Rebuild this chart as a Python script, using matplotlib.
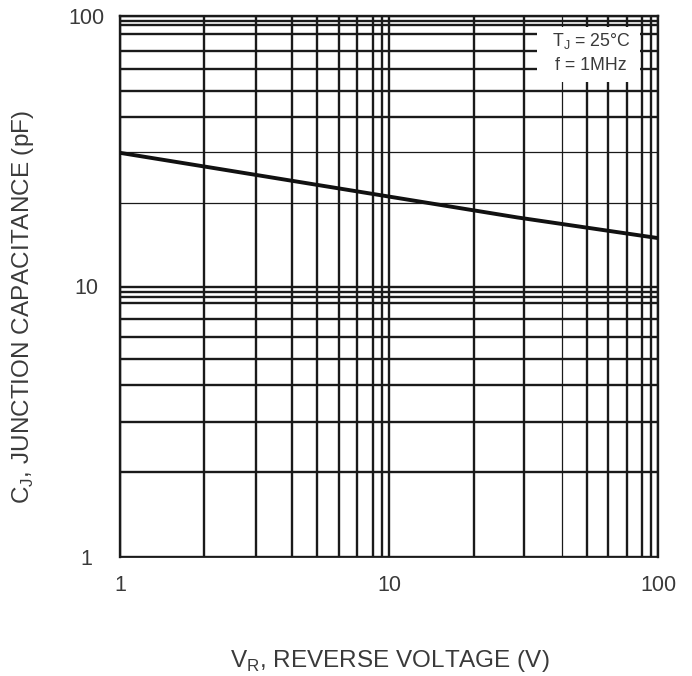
import matplotlib
matplotlib.use("Agg")
import matplotlib.pyplot as plt
from matplotlib.patches import Rectangle

plt.rcParams['font.family'] = ['Liberation Sans', 'DejaVu Sans']

# Data: junction capacitance vs reverse voltage
vr = [1, 2, 10, 30, 100]
cj = [31.2, 27.9, 21.5, 18.0, 15.1]

# Grid line positions as printed on the original (slightly irregular) log paper
x_grid = [1, 2.06, 3.2, 4.37, 5.38, 6.52, 7.6, 8.74, 9.4, 10,
          20.7, 31.8, 43.9, 54.3, 65.4, 76.5, 87.5, 94, 100]
y_grid = [1, 2.06, 3.16, 4.32, 5.4, 6.51, 7.58, 8.71, 9.17, 9.57, 10,
          20.4, 31.4, 42.3, 52.8, 63.7, 74.3, 85.8, 92.6, 96.1, 100]
x_thin = [43.9]
y_thin = [31.4, 20.4]

x_ticks = [1, 10, 100]
x_ticklabels = ["1", "10", "100"]
y_ticks = [1, 10, 100]
y_ticklabels = ["1", "10", "100"]

W, H = 692, 676
fig = plt.figure(figsize=(W / 100, H / 100), dpi=100)
L, R, T, B = 120, 658, 16, 557
ax = fig.add_axes([L / W, 1 - B / H, (R - L) / W, (B - T) / H])
ax.set_xscale('log')
ax.set_yscale('log')
ax.set_xlim(1, 100)
ax.set_ylim(1, 100)

gcol = '#1a1a1a'
tcol = '#3a3a3a'
for xv in x_grid:
    ax.axvline(xv, color=gcol, lw=0.9 if xv in x_thin else 1.7, zorder=1)
for yv in y_grid:
    ax.axhline(yv, color=gcol, lw=0.9 if yv in y_thin else 1.7, zorder=1)

# Conditions box (white patch covering the grid)
bx0, by0, bx1, by1 = 537, 27, 640, 82
fig.patches.append(Rectangle((bx0 / W, 1 - by1 / H), (bx1 - bx0) / W, (by1 - by0) / H,
                             transform=fig.transFigure, facecolor='white',
                             edgecolor='none', zorder=5))
fig.text(591 / W, 1 - 41 / H, r"T$_\mathregular{J}$ = 25°C", ha='center', va='center',
         fontsize=12.8, color=tcol, zorder=6)
fig.text(591 / W, 1 - 65 / H, "f = 1MHz", ha='center', va='center',
         fontsize=12.8, color=tcol, zorder=6)

ax.plot(vr, cj, color='#111111', lw=2.8, zorder=3, solid_capstyle='butt')

ax.set_xticks(x_ticks)
ax.set_xticklabels(x_ticklabels)
ax.set_yticks(y_ticks)
ax.set_yticklabels(y_ticklabels)
ax.minorticks_off()
ax.tick_params(axis='both', length=0, labelsize=15.5, labelcolor=tcol)
ax.tick_params(axis='y', pad=24)
ax.tick_params(axis='x', pad=13)
for lbl in ax.get_yticklabels():
    lbl.set_horizontalalignment('center')

for s in ['left', 'top', 'right']:
    ax.spines[s].set_linewidth(1.7)
    ax.spines[s].set_color(gcol)
ax.spines['bottom'].set_linewidth(1.3)
ax.spines['bottom'].set_color(gcol)

fig.text(390 / W, 1 - 661 / H, r"V$_\mathregular{R}$, REVERSE VOLTAGE (V)", ha='center',
         va='center', fontsize=17.5, color=tcol)
fig.text(23 / W, 1 - 307 / H, r"C$_\mathregular{J}$, JUNCTION CAPACITANCE (pF)", ha='center',
         va='center', rotation=90, fontsize=17.5, color=tcol)

fig.savefig("out.png", dpi=100)
